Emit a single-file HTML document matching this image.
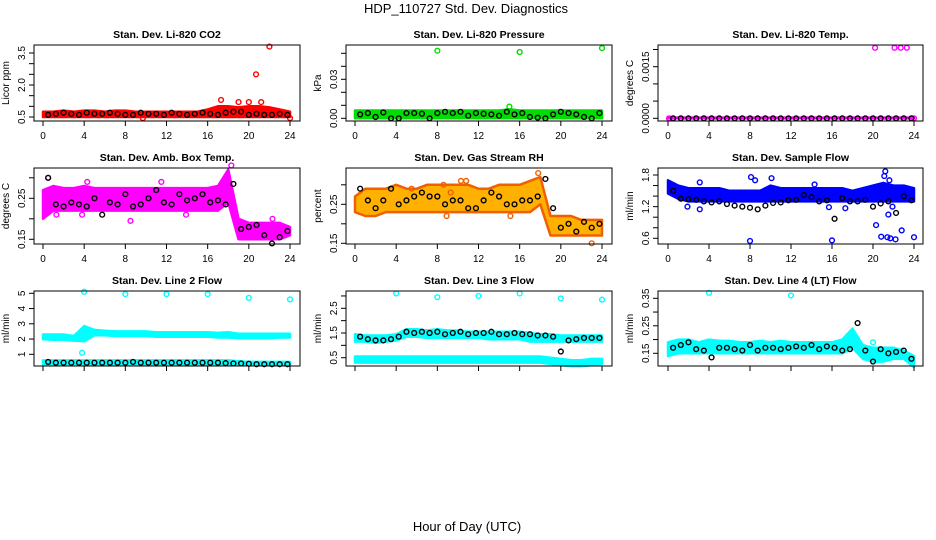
<!DOCTYPE html>
<html><head><meta charset="utf-8"><style>
body{margin:0;background:#fff;}
svg{display:block;font-family:"Liberation Sans",sans-serif;}
</style></head><body>
<svg id="chart" width="936" height="540" viewBox="0 0 936 540" xmlns="http://www.w3.org/2000/svg">
<text x="466" y="13" text-anchor="middle" font-size="13">HDP_110727  Std. Dev. Diagnostics</text>
<text x="467" y="531" text-anchor="middle" font-size="13">Hour of Day (UTC)</text>
</svg>
<script>
const hours=[0,1,2,3,4,5,6,7,8,9,10,11,12,13,14,15,16,17,18,19,20,21,22,23,24];
const blkHours=[0.5,1.25,2,2.75,3.5,4.25,5,5.75,6.5,7.25,8,8.75,9.5,10.25,11,11.75,12.5,13.25,14,14.75,15.5,16.25,17,17.75,18.5,19.25,20,20.75,21.5,22.25,23,23.75];
const xTicks=[0,4,8,12,16,20,24];

const co2Lo=[0.5,0.5,0.5,0.5,0.5,0.5,0.5,0.5,0.5,0.5,0.5,0.5,0.5,0.5,0.5,0.5,0.5,0.5,0.5,0.5,0.5,0.5,0.5,0.5,0.5];
const co2Hi=[0.75,0.75,0.8,0.75,0.8,0.8,0.75,0.8,0.8,0.75,0.75,0.75,0.75,0.75,0.75,0.75,0.85,1.0,1.0,0.95,1.0,1.0,0.95,0.85,0.75];
const co2OutX=[17.3,19,20,20.7,21.2,22,24,9.7];
const co2OutY=[1.3,1.2,1.2,2.5,1.2,3.8,0.45,0.45];
const co2Blk=[0.6,0.65,0.7,0.65,0.6,0.7,0.65,0.65,0.7,0.65,0.6,0.6,0.7,0.65,0.65,0.6,0.7,0.65,0.6,0.65,0.7,0.65,0.6,0.7,0.75,0.75,0.6,0.65,0.6,0.6,0.65,0.6];

const presLo=[0,0,0,0,0,0,0,0,0,0,0,0,0,0,0,0,0,0,0,0,0,0,0,0,0];
const presHi=[0.006,0.006,0.006,0.006,0.006,0.006,0.006,0.006,0.006,0.006,0.006,0.006,0.006,0.006,0.006,0.007,0.006,0.006,0.006,0.006,0.006,0.006,0.006,0.006,0.006];
const presOutX=[8,16,24,15];
const presOutY=[0.052,0.051,0.054,0.009];
const presBlk=[0.003,0.004,0.001,0.0045,0,0,0.004,0.004,0.0035,0,0.004,0.005,0.004,0.005,0.002,0.004,0.0035,0.003,0.002,0.005,0.003,0.004,0.001,0.0005,0,0.003,0.005,0.004,0.003,0.001,0,0.004];

const tempLo=[0,0,0,0,0,0,0,0,0,0,0,0,0,0,0,0,0,0,0,0,0,0,0,0,0];
const tempHi=[0.00002,0.00002,0.00002,0.00002,0.00002,0.00002,0.00002,0.00002,0.00002,0.00002,0.00002,0.00002,0.00002,0.00002,0.00002,0.00002,0.00002,0.00002,0.00002,0.00002,0.00002,0.00002,0.00002,0.00002,0.00002];
const tempOutX=[20.2,22.1,22.7,23.3,0.1,24];
const tempOutY=[0.00205,0.00205,0.00205,0.00205,0,0];
const tempBlk=[0,0,0,0,0,0,0,0,0,0,0,0,0,0,0,0,0,0,0,0,0,0,0,0,0,0,0,0,0,0,0,0];

const ambLo=[0.2,0.22,0.22,0.22,0.22,0.22,0.22,0.22,0.22,0.22,0.22,0.22,0.22,0.22,0.22,0.22,0.22,0.22,0.24,0.15,0.15,0.15,0.15,0.15,0.16];
const ambHi=[0.27,0.28,0.275,0.275,0.28,0.275,0.275,0.275,0.275,0.275,0.275,0.275,0.275,0.275,0.275,0.275,0.275,0.28,0.32,0.2,0.19,0.19,0.19,0.19,0.18];
const ambOutX=[0.5,4.3,1.3,8.5,13.9,11.5,3.8,22.3,18.3];
const ambOutY=[0.3,0.29,0.21,0.195,0.21,0.29,0.21,0.2,0.33];
const ambBlk=[0.3,0.235,0.23,0.24,0.235,0.23,0.25,0.21,0.24,0.235,0.26,0.23,0.235,0.25,0.27,0.24,0.235,0.26,0.245,0.25,0.26,0.24,0.245,0.235,0.285,0.175,0.18,0.185,0.16,0.14,0.155,0.17];

const rhLo=[0.23,0.22,0.22,0.23,0.23,0.23,0.23,0.23,0.23,0.23,0.23,0.23,0.23,0.23,0.23,0.23,0.23,0.23,0.25,0.17,0.17,0.17,0.17,0.17,0.17];
const rhHi=[0.27,0.29,0.29,0.29,0.30,0.29,0.29,0.30,0.30,0.30,0.30,0.30,0.29,0.29,0.30,0.30,0.30,0.31,0.32,0.22,0.22,0.22,0.21,0.21,0.21];
const rhOutX=[5.5,8.6,10.3,10.8,9.3,17.8,23,8.9,15.1];
const rhOutY=[0.29,0.3,0.31,0.31,0.28,0.33,0.15,0.22,0.22];
const rhBlk=[0.29,0.26,0.24,0.26,0.29,0.25,0.26,0.27,0.28,0.27,0.27,0.25,0.26,0.26,0.24,0.24,0.26,0.28,0.27,0.25,0.25,0.26,0.26,0.27,0.315,0.24,0.19,0.2,0.18,0.205,0.19,0.2];

const flowLo=[1.45,1.35,1.3,1.3,1.3,1.3,1.3,1.3,1.3,1.3,1.3,1.3,1.3,1.3,1.3,1.3,1.3,1.3,1.3,1.3,1.3,1.3,1.3,1.3,1.3];
const flowHi=[1.7,1.6,1.55,1.55,1.55,1.55,1.5,1.5,1.5,1.5,1.6,1.55,1.55,1.55,1.55,1.55,1.55,1.55,1.5,1.55,1.6,1.65,1.6,1.6,1.55];
const flowOutX=[3.1,3.1,1.9,8.1,8.5,8,10.1,14.3,15.7,16,17.3,20.3,20.8,21.1,21.4,21.5,21.7,21.9,22.2,22.8,24,21.2,21.6];
const flowOutY=[1.66,1.15,1.2,1.76,1.7,0.55,1.74,1.62,1.19,0.56,1.17,0.85,0.63,1.78,0.62,1.05,0.6,1.2,0.58,0.75,0.62,1.87,1.7];
const flowBlk=[1.5,1.35,1.34,1.33,1.3,1.28,1.3,1.25,1.22,1.2,1.18,1.15,1.22,1.27,1.28,1.32,1.33,1.42,1.38,1.3,1.32,0.97,1.36,1.3,1.3,1.33,1.2,1.26,1.3,1.08,1.4,1.32];

const l2UpLo=[2.0,1.95,1.95,1.9,1.85,2.25,2.25,2.2,2.2,2.2,2.2,2.15,2.15,2.15,2.15,2.15,2.15,2.1,2.1,2.05,2.05,2.05,2.05,2.1,2.1];
const l2UpHi=[2.3,2.3,2.3,2.2,2.85,2.6,2.55,2.5,2.5,2.5,2.5,2.45,2.45,2.45,2.45,2.45,2.45,2.4,2.45,2.35,2.35,2.35,2.35,2.35,2.35];
const l2LoLo=[0.35,0.35,0.35,0.35,0.35,0.35,0.35,0.35,0.35,0.35,0.35,0.35,0.35,0.35,0.35,0.35,0.35,0.35,0.35,0.3,0.3,0.3,0.3,0.3,0.3];
const l2LoHi=[0.6,0.6,0.6,0.6,0.6,0.6,0.6,0.6,0.6,0.6,0.6,0.6,0.6,0.6,0.6,0.6,0.6,0.6,0.6,0.55,0.5,0.5,0.5,0.5,0.5];
const l2OutX=[4,8,12,16,20,24,3.8];
const l2OutY=[5.1,4.95,4.95,4.95,4.7,4.6,1.1];
const l2Blk=[0.5,0.45,0.45,0.45,0.45,0.45,0.45,0.45,0.45,0.45,0.45,0.5,0.45,0.45,0.45,0.45,0.45,0.45,0.45,0.45,0.45,0.45,0.45,0.42,0.4,0.4,0.38,0.35,0.35,0.35,0.35,0.35];

const l3UpLo=[1.15,1.15,1.1,1.15,1.2,1.35,1.35,1.3,1.3,1.3,1.3,1.3,1.3,1.25,1.25,1.25,1.25,1.15,1.15,1.15,1.15,1.15,1.15,1.15,1.15];
const l3UpHi=[1.45,1.4,1.4,1.4,1.45,1.65,1.65,1.6,1.65,1.6,1.6,1.55,1.55,1.55,1.55,1.55,1.55,1.5,1.45,1.45,1.4,1.4,1.4,1.4,1.4];
const l3LoLo=[0.3,0.3,0.3,0.3,0.3,0.3,0.3,0.3,0.3,0.3,0.3,0.3,0.3,0.3,0.3,0.3,0.3,0.3,0.3,0.25,0.2,0.15,0.15,0.2,0.25];
const l3LoHi=[0.55,0.55,0.55,0.55,0.55,0.55,0.55,0.55,0.55,0.55,0.55,0.55,0.55,0.55,0.55,0.55,0.55,0.55,0.55,0.5,0.45,0.4,0.4,0.45,0.45];
const l3OutX=[4,8,12,16,20,24];
const l3OutY=[3.1,2.95,3.0,3.1,2.9,2.85];
const l3Blk=[1.35,1.25,1.2,1.2,1.25,1.35,1.55,1.5,1.55,1.5,1.55,1.45,1.5,1.55,1.45,1.5,1.5,1.55,1.45,1.45,1.5,1.45,1.45,1.4,1.4,1.35,0.75,1.2,1.25,1.3,1.3,1.3];

const l4Lo=[0.14,0.15,0.15,0.15,0.15,0.15,0.15,0.15,0.15,0.15,0.15,0.15,0.15,0.15,0.15,0.15,0.15,0.15,0.17,0.13,0.12,0.12,0.13,0.13,0.1];
const l4Hi=[0.19,0.2,0.2,0.19,0.2,0.195,0.195,0.19,0.19,0.195,0.19,0.195,0.19,0.19,0.19,0.19,0.19,0.2,0.24,0.18,0.17,0.17,0.17,0.16,0.14];
const l4OutX=[4,12,20];
const l4OutY=[0.37,0.36,0.19];
const l4Blk=[0.17,0.18,0.19,0.165,0.16,0.135,0.17,0.17,0.165,0.16,0.18,0.16,0.17,0.17,0.165,0.17,0.175,0.17,0.18,0.165,0.175,0.17,0.16,0.165,0.26,0.16,0.12,0.165,0.15,0.155,0.16,0.13];

const NS='http://www.w3.org/2000/svg';
const svg=document.getElementById('chart');
function mk(tag,attrs,parent){const e=document.createElementNS(NS,tag);for(const k in attrs)e.setAttribute(k,attrs[k]);(parent||svg).appendChild(e);return e;}

const cols=[{x0:34,x1:300,h0:43,h24:290},{x0:346,x1:612,h0:355,h24:602},{x0:658,x1:923,h0:668,h24:914}];
const rows=[{y0:45,y1:121},{y0:168,y1:244},{y0:291,y1:366}];

const panels=[
 {name:'co2',title:'Stan. Dev. Li-820 CO2',ylab:'Licor ppm',c:0,r:0,yr:[0.5,117,3.5,53],ticks:[0.5,1,1.5,2,2.5,3,3.5],labels:['0.5','2.0','3.5'],labelAt:[0.5,2,3.5],col:'#ff0000',fill:'#ff0000',bands:[[co2Lo,co2Hi]],ox:co2OutX,oy:co2OutY,blk:co2Blk},
 {name:'pressure',title:'Stan. Dev. Li-820 Pressure',ylab:'kPa',c:1,r:0,yr:[0,118.3,0.03,79.3],ticks:[0,0.01,0.02,0.03,0.04,0.05],labels:['0.00','0.03'],labelAt:[0,0.03],col:'#00dd00',fill:'#00dd00',bands:[[presLo,presHi]],ox:presOutX,oy:presOutY,blk:presBlk},
 {name:'temp',title:'Stan. Dev. Li-820 Temp.',ylab:'degrees C',c:2,r:0,yr:[0,118.3,0.0015,66.7],ticks:[0,0.0005,0.001,0.0015,0.002],labels:['0.0000','0.0015'],labelAt:[0,0.0015],col:'#ff00ff',fill:'#ff00ff',bands:[[tempLo,tempHi]],ox:tempOutX,oy:tempOutY,blk:tempBlk},
 {name:'amb-temp',title:'Stan. Dev. Amb. Box Temp.',ylab:'degrees C',c:0,r:1,yr:[0.15,239.3,0.25,198.3],ticks:[0.15,0.2,0.25,0.3],labels:['0.15','0.25'],labelAt:[0.15,0.25],col:'#ff00ff',fill:'#ff00ff',bands:[[ambLo,ambHi]],ox:ambOutX,oy:ambOutY,blk:ambBlk},
 {name:'rh',title:'Stan. Dev. Gas Stream RH',ylab:'percent',c:1,r:1,yr:[0.15,243.3,0.25,204.3],ticks:[0.15,0.2,0.25,0.3],labels:['0.15','0.25'],labelAt:[0.15,0.25],col:'#f06000',fill:'#ffb000',bands:[[rhLo,rhHi]],ox:rhOutX,oy:rhOutY,blk:rhBlk},
 {name:'sample-flow',title:'Stan. Dev. Sample Flow',ylab:'ml/min',c:2,r:1,yr:[0.6,238.3,1.8,175],ticks:[0.6,0.8,1,1.2,1.4,1.6,1.8],labels:['0.6','1.2','1.8'],labelAt:[0.6,1.2,1.8],col:'#0000ff',fill:'#0000ff',bands:[[flowLo,flowHi]],ox:flowOutX,oy:flowOutY,blk:flowBlk},
 {name:'line2',title:'Stan. Dev. Line 2 Flow',ylab:'ml/min',c:0,r:2,yr:[1,354.3,5,293.3],ticks:[1,2,3,4,5],labels:['1','2','3','4','5'],labelAt:[1,2,3,4,5],col:'#00ffff',fill:'#00ffff',bands:[[l2UpLo,l2UpHi],[l2LoLo,l2LoHi]],ox:l2OutX,oy:l2OutY,blk:l2Blk},
 {name:'line3',title:'Stan. Dev. Line 3 Flow',ylab:'ml/min',c:1,r:2,yr:[0.5,357.7,2.5,308.3],ticks:[0.5,1,1.5,2,2.5,3],labels:['0.5','1.5','2.5'],labelAt:[0.5,1.5,2.5],col:'#00ffff',fill:'#00ffff',bands:[[l3UpLo,l3UpHi],[l3LoLo,l3LoHi]],ox:l3OutX,oy:l3OutY,blk:l3Blk},
 {name:'line4',title:'Stan. Dev. Line 4 (LT) Flow',ylab:'ml/min',c:2,r:2,yr:[0.15,353.3,0.35,298.3],ticks:[0.15,0.2,0.25,0.3,0.35],labels:['0.15','0.25','0.35'],labelAt:[0.15,0.25,0.35],col:'#00ffff',fill:'#00ffff',bands:[[l4Lo,l4Hi]],ox:l4OutX,oy:l4OutY,blk:l4Blk}
];

panels.forEach(p=>{
 const C=cols[p.c],R=rows[p.r];
 const xs=h=>C.h0+(C.h24-C.h0)*h/24;
 const ys=v=>p.yr[1]+(v-p.yr[0])*(p.yr[3]-p.yr[1])/(p.yr[2]-p.yr[0]);
 const g=mk('g',{});
 
 
 const t=mk('text',{x:(C.x0+C.x1)/2,y:R.y0-7,'text-anchor':'middle','font-size':'10.5','font-weight':'bold'},g);
 t.textContent=p.title;
 
 
 p.bands.forEach((b,bi)=>{
  let d='';
  hours.forEach((h,i)=>{d+=(i?'L':'M')+xs(h).toFixed(1)+','+ys(b[1][i]).toFixed(1);});
  for(let i=hours.length-1;i>=0;i--)d+='L'+xs(hours[i]).toFixed(1)+','+ys(b[0][i]).toFixed(1);
  d+='Z';
  const band=mk('path',{d:d,fill:p.fill,stroke:p.col,'stroke-width':2.5,'stroke-linejoin':'round'},g);
  
  
 });
 p.ox.forEach((h,i)=>{
  const c=mk('circle',{cx:xs(h),cy:ys(p.oy[i]),r:2.4,fill:'none',stroke:p.col,'stroke-width':1.4},g);
  
  
 });
 blkHours.forEach((h,i)=>{
  const c=mk('circle',{cx:xs(h),cy:ys(p.blk[i]),r:2.4,fill:'none',stroke:'#000','stroke-width':1.4},g);
  
  
 });
 const box=mk('rect',{x:C.x0,y:R.y0,width:C.x1-C.x0,height:R.y1-R.y0,fill:'none',stroke:'#000','stroke-width':1},g);
 
 
 const xa=mk('g',{},g);
 
 
 mk('line',{x1:xs(0),x2:xs(24),y1:R.y1,y2:R.y1,stroke:'#000'},xa);
 xTicks.forEach(h=>{
  mk('line',{x1:xs(h),x2:xs(h),y1:R.y1,y2:R.y1+5,stroke:'#000'},xa);
  if(p.r<2){const tl=mk('text',{x:xs(h),y:R.y1+18,'text-anchor':'middle','font-size':'10'},xa);tl.textContent=h;}
 });
 const ya=mk('g',{},g);
 
 
 mk('line',{x1:C.x0,x2:C.x0,y1:ys(p.ticks[0]),y2:ys(p.ticks[p.ticks.length-1]),stroke:'#000'},ya);
 p.ticks.forEach(v=>mk('line',{x1:C.x0-5,x2:C.x0,y1:ys(v),y2:ys(v),stroke:'#000'},ya));
 p.labelAt.forEach((v,i)=>{
  const tx=C.x0-9,ty=ys(v);
  const tl=mk('text',{x:tx,y:ty,'text-anchor':'middle','font-size':'10',transform:`rotate(-90 ${tx} ${ty})`},ya);
  tl.textContent=p.labels[i];
 });
 const yl=C.x0-25,ym=(R.y0+R.y1)/2;
 const yt=mk('text',{x:yl,y:ym,'text-anchor':'middle','font-size':'10',transform:`rotate(-90 ${yl} ${ym})`},g);
 yt.textContent=p.ylab;
 
 
});
</script>
</body></html>
